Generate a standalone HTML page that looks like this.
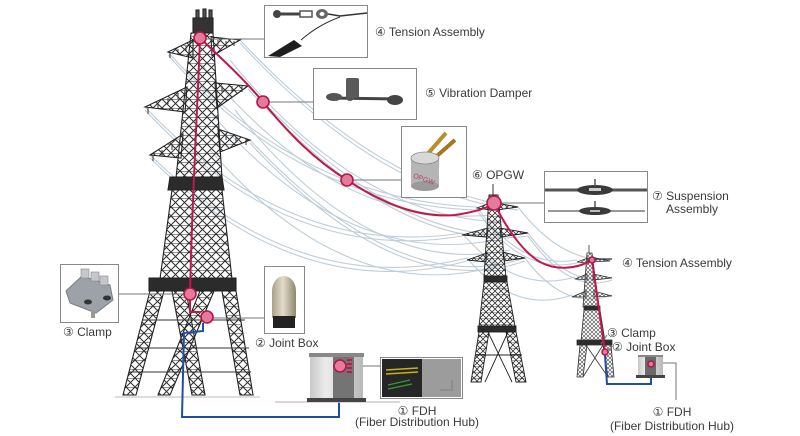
<!DOCTYPE html>
<html><head><meta charset="utf-8"><style>
html,body{margin:0;padding:0;background:#fff;}
svg{display:block;}
text{font-family:"Liberation Sans","DejaVu Sans",sans-serif;font-size:12px;fill:#3a3a3a;}
</style></head><body>
<svg width="800" height="436" viewBox="0 0 800 436" xmlns="http://www.w3.org/2000/svg">
<defs>
<pattern id="lat" width="9" height="9" patternUnits="userSpaceOnUse"><path d="M0,0L9,9M9,0L0,9M0,0H9" stroke="#2e2e2e" stroke-width="1" fill="none"/></pattern>
<pattern id="lat2" width="6" height="6" patternUnits="userSpaceOnUse"><path d="M0,0L6,6M6,0L0,6M0,0H6" stroke="#333" stroke-width="0.8" fill="none"/></pattern>
<pattern id="lat3" width="4" height="4" patternUnits="userSpaceOnUse"><path d="M0,0L4,4M4,0L0,4" stroke="#444" stroke-width="0.6" fill="none"/></pattern>
<linearGradient id="dome" x1="0" x2="1"><stop offset="0" stop-color="#a9a08a"/><stop offset="0.45" stop-color="#e2dcc8"/><stop offset="1" stop-color="#8e8672"/></linearGradient>
<linearGradient id="bld" x1="0" x2="1"><stop offset="0" stop-color="#c8c8c8"/><stop offset="0.3" stop-color="#ececec"/><stop offset="1" stop-color="#b8b8b8"/></linearGradient>
</defs>

<!-- faint power lines -->
<g fill="none" stroke="#bccbd6" stroke-width="1.1" opacity="0.95">
<path d="M168,52 Q300,200 477,207"/><path d="M168,55 Q300,205 477,210"/>
<path d="M240,40 Q380,190 518,207"/><path d="M240,43 Q380,195 518,210"/>
<path d="M145,107 Q290,260 462,233"/><path d="M145,110 Q290,266 462,236"/>
<path d="M248,86 Q400,250 528,233"/><path d="M248,89 Q400,255 528,236"/>
<path d="M150,155 Q300,300 467,258"/><path d="M150,158 Q300,306 467,261"/>
<path d="M250,140 Q400,300 525,258"/><path d="M250,143 Q400,305 525,261"/>
<path d="M190,50 Q330,230 490,215"/><path d="M200,100 Q340,270 495,240"/>
<path d="M210,150 Q350,310 500,265"/><path d="M230,60 Q360,220 505,222"/>
<path d="M235,110 Q370,280 510,250"/>
<path d="M477,207 Q520,270 577,260"/><path d="M518,207 Q560,262 610,260"/>
<path d="M462,233 Q515,295 575,277"/><path d="M528,233 Q570,290 612,277"/>
<path d="M467,258 Q515,315 572,295"/><path d="M525,258 Q565,312 612,295"/>
<path d="M477,210 Q520,275 577,263"/><path d="M528,236 Q570,295 612,280"/>
</g>

<!-- BIG TOWER -->
<g stroke="#222" stroke-width="1.1">
<rect x="196" y="10" width="3" height="9" fill="#555"/><rect x="203" y="9" width="3" height="10" fill="#555"/><rect x="209" y="10" width="3" height="9" fill="#555"/>
<rect x="193" y="18" width="20" height="15" fill="#333"/>
<polygon points="191,33 213,33 222,178 176,178" fill="url(#lat)"/>
<polygon points="168,52 193,40 193,58" fill="url(#lat)"/>
<polygon points="240,40 211,37 212,56" fill="url(#lat)"/>
<polygon points="145,107 187,87 185,112" fill="url(#lat)"/>
<polygon points="248,86 215,83 217,108" fill="url(#lat)"/>
<polygon points="150,155 183,134 181,158" fill="url(#lat)"/>
<polygon points="250,140 218,129 220,152" fill="url(#lat)"/>
<polygon points="170,177 222,177 224,190 168,190" fill="#2b2b2b"/>
<polygon points="172,190 222,190 232,279 160,279" fill="url(#lat)"/>
<polygon points="149,278 236,278 236,291 149,291" fill="#2b2b2b"/>
<polygon points="150,291 164,291 136,395 123,395" fill="url(#lat)"/>
<polygon points="172,291 186,291 205,395 192,395" fill="url(#lat)"/>
<polygon points="200,291 214,291 170,395 158,395" fill="url(#lat)"/>
<polygon points="222,291 236,291 253,395 240,395" fill="url(#lat)"/>
</g>
<g stroke="#333" stroke-width="1">
<path d="M142,320 H245 M135,348 H249 M129,372 H251"/>
<path d="M170,53 v5 M178,49 v5 M186,46 v5 M218,40 v5 M226,41 v5 M234,41 v5"/>
<path d="M148,108 v6 M158,103 v6 M168,98 v6 M178,93 v6 M222,86 v6 M232,86 v6 M242,86 v6"/>
<path d="M153,155 v6 M162,150 v6 M172,144 v6 M226,134 v6 M236,137 v6 M246,139 v6"/>
</g>
<line x1="115" y1="397" x2="260" y2="397" stroke="#ddd" stroke-width="2"/>

<!-- MID TOWER -->
<g stroke="#222" stroke-width="0.9">
<line x1="493" y1="184" x2="493" y2="195"/>
<polygon points="489,195 498,195 506,277 484,277" fill="url(#lat2)"/>
<polygon points="477,208 490,203 490,210" fill="url(#lat2)"/>
<polygon points="518,207 497,203 497,210" fill="url(#lat2)"/>
<polygon points="462,235 488,228 487,237" fill="url(#lat2)"/>
<polygon points="528,233 500,228 501,237" fill="url(#lat2)"/>
<polygon points="467,260 487,253 486,262" fill="url(#lat2)"/>
<polygon points="525,258 503,252 504,261" fill="url(#lat2)"/>
<rect x="484" y="276" width="23" height="6" fill="#2b2b2b"/>
<polygon points="484,282 507,282 515,326 479,326" fill="url(#lat2)"/>
<rect x="478" y="326" width="38" height="6" fill="#2b2b2b"/>
<polygon points="479,332 489,332 481,382 471,382" fill="url(#lat2)"/>
<polygon points="506,332 516,332 526,382 516,382" fill="url(#lat2)"/>
<path d="M488,332 L512,382 M508,332 L485,382 M476,355 H522" fill="none"/>
</g>

<!-- RIGHT TOWER -->
<g stroke="#333" stroke-width="0.8">
<line x1="589" y1="245" x2="589" y2="253"/>
<polygon points="587,253 592,253 599,307 583,307" fill="url(#lat3)"/>
<polygon points="577,262 588,258 588,263" fill="url(#lat3)"/>
<polygon points="610,261 591,257 591,262" fill="url(#lat3)"/>
<polygon points="575,279 587,274 587,280" fill="url(#lat3)"/>
<polygon points="612,278 593,274 593,280" fill="url(#lat3)"/>
<polygon points="572,297 586,291 586,297" fill="url(#lat3)"/>
<polygon points="612,296 594,291 594,297" fill="url(#lat3)"/>
<rect x="584" y="306" width="16" height="4" fill="#2b2b2b"/>
<polygon points="584,310 600,310 605,341 581,341" fill="url(#lat3)"/>
<rect x="577" y="340" width="35" height="5" fill="#2b2b2b"/>
<polygon points="580,345 587,345 583,377 577,377" fill="url(#lat3)"/>
<polygon points="603,345 611,345 614,377 608,377" fill="url(#lat3)"/>
<path d="M586,345 L608,377 M603,345 L583,377" fill="none"/>
</g>

<!-- leader lines -->
<g stroke="#777" stroke-width="1" fill="none">
<path d="M206,39 H264"/><path d="M269,102 H313"/><path d="M353,180 H401"/>
<path d="M500,203 H544"/><path d="M118,294 H184"/><path d="M213,318 H264"/>
<path d="M360,366 H380"/>
<path d="M663,363 H676 V400"/>
<path d="M601,344 L607,335"/><path d="M607,351 L613,346"/>
</g>
<line x1="593" y1="259" x2="612" y2="259" stroke="#333" stroke-width="1.2"/>

<!-- red cables -->
<g stroke="#c0184c" stroke-width="2" fill="none">
<path d="M200,38 C225,62 245,80 263,102 C290,135 315,160 347,180 C385,205 420,218 455,215 C475,212 488,208 494,203"/>
<path d="M494,203 C505,225 520,250 540,262 C555,270 575,270 592,260"/>
<path d="M200,38 C197,120 192,200 190,294 L190,312 L201,312"/>
<path d="M592,260 L605,352"/>
</g>
<!-- blue cables -->
<g stroke="#1f4fa0" stroke-width="2" fill="none">
<path d="M203,323 L203,331 L184,333 L182,417 L339,417 L339,368"/>
<path d="M605,355 L607,384 L651,384 L651,366"/>
</g>

<!-- FDH building left -->
<line x1="275" y1="402" x2="400" y2="402" stroke="#ccc" stroke-width="1.5"/>
<rect x="309" y="353" width="55" height="4" fill="#888"/>
<rect x="310" y="357" width="53" height="42" fill="url(#bld)"/>
<rect x="333" y="357" width="21" height="42" fill="#747474"/>
<rect x="347" y="359" width="5" height="2" fill="#c0184c"/><rect x="347" y="363" width="5" height="2" fill="#c0184c"/><rect x="347" y="367" width="5" height="2" fill="#c0184c"/><rect x="347" y="371" width="5" height="2" fill="#c0184c"/>
<rect x="307" y="398" width="59" height="4" fill="#444"/>
<!-- FDH building right -->
<rect x="638" y="355" width="25" height="2" fill="#888"/>
<rect x="638" y="357" width="25" height="19" fill="url(#bld)"/>
<rect x="645" y="357" width="11" height="19" fill="#6a6a6a"/>
<rect x="636" y="375" width="29" height="3" fill="#444"/>

<!-- nodes -->
<g fill="#e57a9b" stroke="#b0174a" stroke-width="1.6">
<circle cx="200" cy="38" r="6"/><circle cx="263" cy="102" r="6"/><circle cx="347" cy="180" r="6"/>
<circle cx="494" cy="203" r="7"/><circle cx="190" cy="294" r="6"/><circle cx="207" cy="317" r="6"/>
<circle cx="340" cy="366" r="6"/>
<circle cx="592" cy="260" r="3"/><circle cx="605" cy="352" r="3"/><circle cx="651" cy="364" r="3"/>
</g>

<!-- boxes -->
<g fill="#fff" stroke="#888" stroke-width="1">
<rect x="264.5" y="5.5" width="103" height="52"/>
<rect x="313.5" y="68.5" width="103" height="51"/>
<rect x="401.5" y="126.5" width="65" height="71"/>
<rect x="544.5" y="171.5" width="103" height="51"/>
<rect x="60.5" y="264.5" width="58" height="58"/>
<rect x="264.5" y="266.5" width="40" height="67"/>
<rect x="380.5" y="357.5" width="82" height="41"/>
</g>

<!-- tension icon -->
<circle cx="277" cy="14" r="4" fill="#444"/>
<line x1="277" y1="14" x2="300" y2="14" stroke="#444" stroke-width="3"/>
<rect x="300" y="11" width="12" height="6" fill="none" stroke="#555" stroke-width="1.5"/>
<ellipse cx="322" cy="14" rx="6" ry="5" fill="#666"/><ellipse cx="322" cy="14" rx="2.5" ry="2" fill="#fff"/>
<path d="M328,14 L340,16 L367,13" stroke="#333" stroke-width="1.5" fill="none"/>
<path d="M340,17 Q318,25 301,40" stroke="#333" stroke-width="1" fill="none"/>
<polygon points="268,56 294,40 302,46 280,57" fill="#1e1e1e"/>

<!-- damper icon -->
<line x1="330" y1="98" x2="402" y2="99" stroke="#444" stroke-width="3"/>
<ellipse cx="334" cy="97" rx="8" ry="4" fill="#555"/><circle cx="350" cy="97" r="4" fill="#555"/>
<ellipse cx="395" cy="100" rx="8" ry="5" fill="#444"/>
<rect x="346" y="78" width="13" height="20" rx="2" fill="#5a5a5a"/>

<!-- OPGW icon -->
<line x1="424" y1="158" x2="446" y2="133" stroke="#b8902a" stroke-width="4"/>
<line x1="430" y1="162" x2="455" y2="140" stroke="#a07a20" stroke-width="4"/>
<rect x="411" y="158" width="28" height="28" fill="#b5b5b5"/>
<ellipse cx="425" cy="186" rx="14" ry="5" fill="#9a9a9a"/>
<ellipse cx="425" cy="158" rx="14" ry="6" fill="#d8d8d8" stroke="#888" stroke-width="0.8"/>
<text x="413" y="180" style="font-size:7px;fill:#b04060" transform="rotate(20 420 178)">OPGW</text>

<!-- suspension icon -->
<line x1="545" y1="190" x2="647" y2="190" stroke="#555" stroke-width="3"/>
<ellipse cx="595" cy="190" rx="18" ry="5" fill="#3a3a3a"/>
<rect x="589" y="188" width="12" height="3" fill="#ccc"/>
<line x1="595" y1="179" x2="595" y2="186" stroke="#555" stroke-width="1.5"/>
<line x1="548" y1="211" x2="645" y2="211" stroke="#777" stroke-width="1.5"/>
<ellipse cx="595" cy="211" rx="16" ry="4" fill="#3a3a3a"/>
<rect x="590" y="210" width="10" height="2" fill="#bbb"/>
<line x1="595" y1="201" x2="595" y2="207" stroke="#555" stroke-width="1.5"/>

<!-- clamp icon -->
<polygon points="66,291 82,276 110,285 113,300 96,313 70,303" fill="#9ca2a8" stroke="#7a7f85" stroke-width="1"/>
<rect x="81" y="269" width="8" height="9" fill="#c4c8cc" stroke="#888" stroke-width="0.6"/>
<rect x="91" y="272" width="8" height="9" fill="#c4c8cc" stroke="#888" stroke-width="0.6"/>
<rect x="100" y="276" width="8" height="9" fill="#c4c8cc" stroke="#888" stroke-width="0.6"/>
<ellipse cx="88" cy="302" rx="4" ry="2.5" fill="#333"/><ellipse cx="107" cy="298" rx="4" ry="2.5" fill="#333"/>
<rect x="91" y="310" width="4" height="8" fill="#999"/>

<!-- joint box icon -->
<path d="M272,318 L272,291 A12,15 0 0 1 296,291 L296,318 Z" fill="url(#dome)"/>
<rect x="273" y="316" width="22" height="12" fill="#222"/>

<!-- FDH image -->
<rect x="382" y="359" width="40" height="38" fill="#262626"/>
<path d="M386,370 L418,368 M386,374 L418,372" stroke="#c8b020" stroke-width="1.5"/>
<path d="M388,385 L410,380 M388,389 L412,384" stroke="#3a9a3a" stroke-width="1.2"/>
<rect x="422" y="359" width="39" height="38" fill="#9c9c9c"/>
<path d="M452,380 V390 H440" stroke="#777" stroke-width="0.8" fill="none"/>

<!-- labels -->
<text x="375" y="36">④ Tension Assembly</text>
<text x="425" y="97">⑤ Vibration Damper</text>
<text x="472" y="179">⑥ OPGW</text>
<text x="652" y="200">⑦ Suspension</text>
<text x="666" y="213">Assembly</text>
<text x="622" y="267">④ Tension Assembly</text>
<text x="607" y="337">③ Clamp</text>
<text x="612" y="351">② Joint Box</text>
<text x="672" y="416" text-anchor="middle">① FDH</text>
<text x="672" y="430" text-anchor="middle">(Fiber Distribution Hub)</text>
<text x="63" y="336">③ Clamp</text>
<text x="255" y="347">② Joint Box</text>
<text x="417" y="415" text-anchor="middle">① FDH</text>
<text x="417" y="426" text-anchor="middle">(Fiber Distribution Hub)</text>
</svg>
</body></html>
